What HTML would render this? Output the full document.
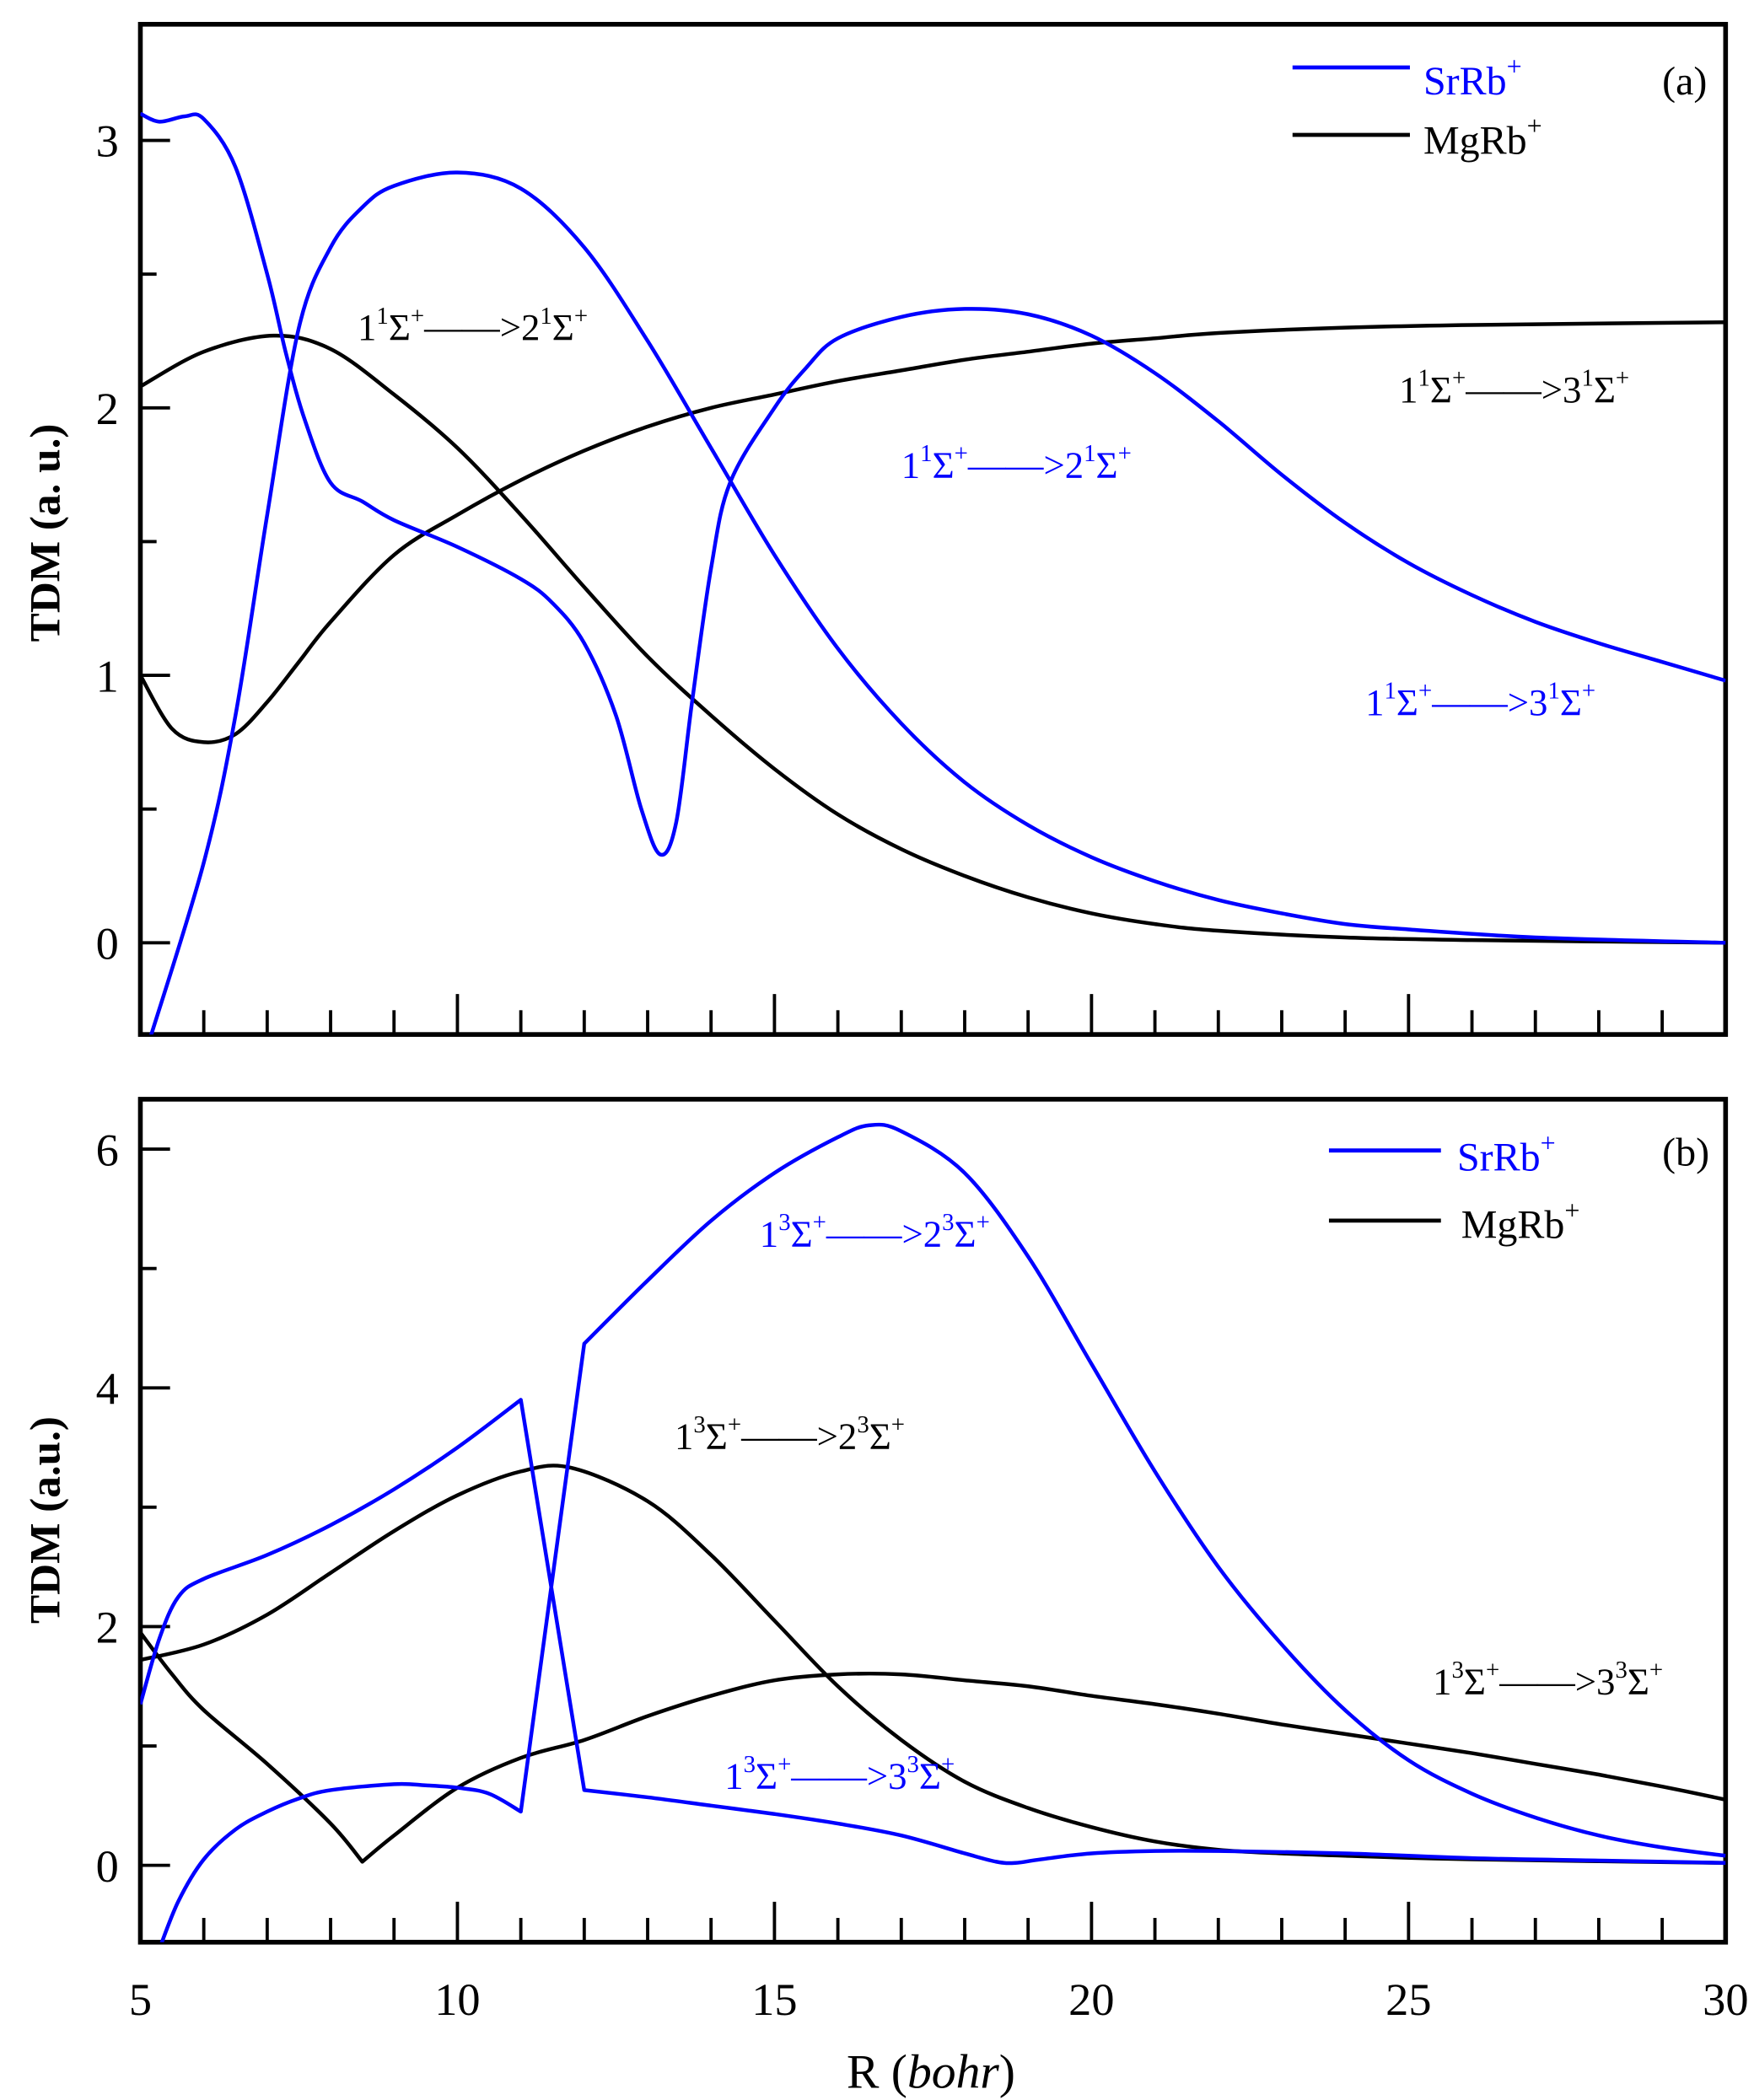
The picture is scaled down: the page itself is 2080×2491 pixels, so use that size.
<!DOCTYPE html>
<html><head><meta charset="utf-8"><style>
html,body{margin:0;padding:0;background:#fff}
svg{display:block}
text{font-family:"Liberation Serif",serif}
</style></head><body>
<svg id="chart" width="2080" height="2491" viewBox="0 0 1300 1557" xmlns="http://www.w3.org/2000/svg">
<defs>
<clipPath id="clipA"><rect x="104" y="18" width="1175" height="749"/></clipPath>
<clipPath id="clipB"><rect x="104" y="815" width="1175" height="625"/></clipPath>
</defs>
<g id="layer"></g>
<g font-size="30">
<line x1="958" y1="50" x2="1045" y2="50" stroke="#0000ff" stroke-width="3"/>
<text x="1055" y="70" fill="#0000ff">SrRb<tspan dy="-14" font-size="20">+</tspan></text>
<line x1="958" y1="100" x2="1045" y2="100" stroke="#000" stroke-width="3"/>
<text x="1055" y="114" fill="#000">MgRb<tspan dy="-14" font-size="20">+</tspan></text>
<text x="1232" y="70">(a)</text>
</g>
<g font-size="28">
<text x="265" y="252">1<tspan dy="-12" font-size="18">1</tspan><tspan dy="12">Σ</tspan><tspan dy="-12" font-size="18">+</tspan><tspan dy="12">——&gt;2</tspan><tspan dy="-12" font-size="18">1</tspan><tspan dy="12">Σ</tspan><tspan dy="-12" font-size="18">+</tspan></text>
<text x="668" y="354" fill="#0000ff">1<tspan dy="-12" font-size="18">1</tspan><tspan dy="12">Σ</tspan><tspan dy="-12" font-size="18">+</tspan><tspan dy="12">——&gt;2</tspan><tspan dy="-12" font-size="18">1</tspan><tspan dy="12">Σ</tspan><tspan dy="-12" font-size="18">+</tspan></text>
<text x="1037" y="298">1<tspan dy="-12" font-size="18">1</tspan><tspan dy="12">Σ</tspan><tspan dy="-12" font-size="18">+</tspan><tspan dy="12">——&gt;3</tspan><tspan dy="-12" font-size="18">1</tspan><tspan dy="12">Σ</tspan><tspan dy="-12" font-size="18">+</tspan></text>
<text x="1012" y="530" fill="#0000ff">1<tspan dy="-12" font-size="18">1</tspan><tspan dy="12">Σ</tspan><tspan dy="-12" font-size="18">+</tspan><tspan dy="12">——&gt;3</tspan><tspan dy="-12" font-size="18">1</tspan><tspan dy="12">Σ</tspan><tspan dy="-12" font-size="18">+</tspan></text>
</g>
<g font-size="30">
<line x1="985" y1="853" x2="1068" y2="853" stroke="#0000ff" stroke-width="3"/>
<text x="1080" y="868" fill="#0000ff">SrRb<tspan dy="-14" font-size="20">+</tspan></text>
<line x1="985" y1="905" x2="1068" y2="905" stroke="#000" stroke-width="3"/>
<text x="1083" y="918" fill="#000">MgRb<tspan dy="-14" font-size="20">+</tspan></text>
<text x="1232" y="864">(b)</text>
</g>
<g font-size="28">
<text x="563" y="924" fill="#0000ff">1<tspan dy="-12" font-size="18">3</tspan><tspan dy="12">Σ</tspan><tspan dy="-12" font-size="18">+</tspan><tspan dy="12">——&gt;2</tspan><tspan dy="-12" font-size="18">3</tspan><tspan dy="12">Σ</tspan><tspan dy="-12" font-size="18">+</tspan></text>
<text x="500" y="1074">1<tspan dy="-12" font-size="18">3</tspan><tspan dy="12">Σ</tspan><tspan dy="-12" font-size="18">+</tspan><tspan dy="12">——&gt;2</tspan><tspan dy="-12" font-size="18">3</tspan><tspan dy="12">Σ</tspan><tspan dy="-12" font-size="18">+</tspan></text>
<text x="1062" y="1256">1<tspan dy="-12" font-size="18">3</tspan><tspan dy="12">Σ</tspan><tspan dy="-12" font-size="18">+</tspan><tspan dy="12">——&gt;3</tspan><tspan dy="-12" font-size="18">3</tspan><tspan dy="12">Σ</tspan><tspan dy="-12" font-size="18">+</tspan></text>
<text x="537" y="1326" fill="#0000ff">1<tspan dy="-12" font-size="18">3</tspan><tspan dy="12">Σ</tspan><tspan dy="-12" font-size="18">+</tspan><tspan dy="12">——&gt;3</tspan><tspan dy="-12" font-size="18">3</tspan><tspan dy="12">Σ</tspan><tspan dy="-12" font-size="18">+</tspan></text>
</g>
<text transform="translate(44,395) rotate(-90)" text-anchor="middle" font-size="32" font-weight="bold">TDM (a. u.)</text>
<text transform="translate(44,1127) rotate(-90)" text-anchor="middle" font-size="32" font-weight="bold">TDM (a.u.)</text>
<text x="690" y="1548" text-anchor="middle" font-size="36">R (<tspan font-style="italic">bohr</tspan>)</text>
</svg>
<script>
// x axis
const xTicks = [5, 10, 15, 20, 25, 30];
// panel (a) data
const aR1 = [5, 5.3, 5.7, 6, 6.5, 7, 7.3, 7.6, 8, 8.5, 9, 10, 11, 11.5, 12, 12.5, 12.9, 13.2, 13.45, 13.7, 14, 14.3, 15, 15.5, 16, 17, 18, 19, 20, 21, 22, 23, 24, 25, 26, 27, 28, 29, 30];
const aSr1 = [3.1, 3.07, 3.09, 3.08, 2.9, 2.5, 2.2, 1.95, 1.72, 1.65, 1.58, 1.48, 1.36, 1.27, 1.12, 0.85, 0.5, 0.33, 0.45, 0.9, 1.4, 1.72, 2.0, 2.15, 2.26, 2.34, 2.37, 2.35, 2.27, 2.13, 1.95, 1.75, 1.57, 1.42, 1.3, 1.2, 1.12, 1.05, 0.98];
const aR2 = [5.15, 6, 6.5, 7, 7.5, 8, 8.5, 9, 10, 11, 12, 13, 14, 15, 16, 17, 18, 19, 20, 21, 22, 23, 24, 25, 27, 30];
const aSr2 = [-0.36, 0.3, 0.85, 1.6, 2.3, 2.6, 2.75, 2.83, 2.88, 2.82, 2.6, 2.25, 1.85, 1.45, 1.1, 0.82, 0.6, 0.44, 0.32, 0.23, 0.16, 0.11, 0.07, 0.05, 0.02, 0.0];
const aR3 = [5, 6, 7.1, 8, 9, 10, 11, 12, 13, 14, 15, 16, 17, 18, 19, 20, 21, 22, 24, 26, 30];
const aMg1 = [2.08, 2.21, 2.27, 2.22, 2.05, 1.85, 1.6, 1.33, 1.07, 0.85, 0.65, 0.48, 0.35, 0.25, 0.17, 0.11, 0.07, 0.045, 0.02, 0.01, 0.0];
const aR4 = [5, 5.5, 6, 6.5, 7, 7.5, 8, 9, 10, 11, 12, 13, 14, 15, 16, 17, 18, 19, 20, 21, 22, 24, 26, 30];
const aMg2 = [1.0, 0.8, 0.75, 0.78, 0.9, 1.05, 1.2, 1.45, 1.6, 1.73, 1.84, 1.93, 2.0, 2.05, 2.1, 2.14, 2.18, 2.21, 2.24, 2.26, 2.28, 2.3, 2.31, 2.32];
const aYTicks = [0, 1, 2, 3];
// panel (b) data
const bR1 = [5, 5.3, 5.6, 6, 7, 8, 9, 10, 11, 12, 13, 14, 15, 16, 17, 18, 18.5, 18.8, 19.2, 20, 21, 22, 24, 26, 28, 30];
const bSr1 = [1.35, 1.9, 2.25, 2.4, 2.6, 2.85, 3.15, 3.5, 3.9, 0.63, 0.57, 0.5, 0.43, 0.35, 0.25, 0.1, 0.03, 0.02, 0.05, 0.1, 0.12, 0.12, 0.1, 0.06, 0.04, 0.02];
const bR2 = [5.3, 5.6, 6, 6.5, 7, 7.5, 8, 9, 9.5, 10, 10.5, 11, 12, 13, 14, 15, 16, 16.5, 17, 18, 19, 20, 21, 22, 23, 24, 25, 26, 27, 28, 29, 30];
const bSr2 = [-0.7, -0.3, 0.05, 0.3, 0.45, 0.56, 0.63, 0.68, 0.67, 0.65, 0.6, 0.45, 4.37, 4.9, 5.4, 5.8, 6.1, 6.2, 6.15, 5.8, 5.1, 4.2, 3.3, 2.5, 1.85, 1.3, 0.88, 0.6, 0.4, 0.25, 0.15, 0.08];
const bR3 = [5, 6, 7, 8, 9, 10, 11, 11.8, 13, 14, 15, 16, 17, 18, 19, 20, 21, 22, 23, 24, 26, 30];
const bMg1 = [1.72, 1.85, 2.1, 2.45, 2.8, 3.1, 3.3, 3.33, 3.05, 2.6, 2.05, 1.5, 1.05, 0.7, 0.48, 0.32, 0.2, 0.13, 0.1, 0.08, 0.05, 0.02];
const bR4 = [5, 5.5, 6, 7, 8, 8.5, 9, 10, 11, 12, 13, 14, 15, 16, 17, 18, 19, 20, 21, 22, 23, 24, 25, 26, 27, 28, 29, 30];
const bMg2 = [1.95, 1.6, 1.3, 0.85, 0.35, 0.03, 0.25, 0.65, 0.9, 1.05, 1.25, 1.42, 1.55, 1.6, 1.6, 1.55, 1.5, 1.42, 1.35, 1.27, 1.18, 1.1, 1.02, 0.94, 0.85, 0.76, 0.66, 0.55];
const bYTicks = [0, 2, 4, 6];

const NS = 'http://www.w3.org/2000/svg';
const layer = document.getElementById('layer');
const X0 = 104, X1 = 1279;
function xs(r){ return X0 + (r - 5) / 25 * (X1 - X0); }
const panels = {
  a: {top: 18, bottom: 767, y0: 699, per: 198.3, clip: 'clipA', minor: 0.5, yticks: aYTicks, ymin: -0.34, ymax: 3.43},
  b: {top: 815, bottom: 1440, y0: 1383, per: 88.5, clip: 'clipB', minor: 1, yticks: bYTicks, ymin: -0.64, ymax: 6.41}
};
function ys(p, v){ return p.y0 - v * p.per; }
function mk(tag, attrs){ const e = document.createElementNS(NS, tag); for (const k in attrs) e.setAttribute(k, attrs[k]); return e; }

function pathFor(p, R, V, sharp){
  const P = R.map((r, i) => [xs(r), ys(p, V[i])]);
  let d = 'M' + P[0][0].toFixed(2) + ',' + P[0][1].toFixed(2);
  for (let i = 0; i < P.length - 1; i++){
    const isSharp = (k) => sharp.indexOf(k) >= 0;
    if (isSharp(i) && isSharp(i + 1)) { d += 'L' + P[i+1][0].toFixed(2) + ',' + P[i+1][1].toFixed(2); continue; }
    const p0 = P[i-1] && !isSharp(i) ? P[i-1] : P[i];
    const p1 = P[i], p2 = P[i+1];
    const p3 = P[i+2] && !isSharp(i+1) ? P[i+2] : P[i+1];
    const c1 = [p1[0] + (p2[0]-p0[0])/6, p1[1] + (p2[1]-p0[1])/6];
    const c2 = [p2[0] - (p3[0]-p1[0])/6, p2[1] - (p3[1]-p1[1])/6];
    d += 'C' + c1.map(v=>v.toFixed(2)).join(',') + ' ' + c2.map(v=>v.toFixed(2)).join(',') + ' ' + p2[0].toFixed(2) + ',' + p2[1].toFixed(2);
  }
  return d;
}

function drawSeries(pk, R, V, color, name, sharp){
  const p = panels[pk];
  const path = mk('path', {d: pathFor(p, R, V, sharp || []), fill: 'none', stroke: color, 'stroke-width': 2.8, 'clip-path': 'url(#' + p.clip + ')', 'stroke-linejoin': 'round'});
  
  
  layer.appendChild(path);
}

function drawAxes(pk){
  const p = panels[pk];
  const g = mk('g', {});
  
  
  layer.appendChild(g);
  for (let r = 5; r <= 30; r++){
    const major = r % 5 === 0;
    const t = mk('line', {x1: xs(r), x2: xs(r), y1: p.bottom, y2: p.bottom - (major ? 30 : 18), stroke: '#000', 'stroke-width': 2.4});
    
    
    g.appendChild(t);
  }
  for (let v = Math.ceil(p.ymin / p.minor) * p.minor; v <= p.ymax; v += p.minor){
    const major = p.yticks.some(t => Math.abs(t - v) < 1e-6);
    const t = mk('line', {x1: X0, x2: X0 + (major ? 22 : 12), y1: ys(p, v), y2: ys(p, v), stroke: '#000', 'stroke-width': 2.4});
    
    
    g.appendChild(t);
  }
  p.yticks.forEach(v => {
    const tx = mk('text', {x: 88, y: ys(p, v) + 12, 'text-anchor': 'end', 'font-size': 34});
    tx.textContent = String(v);
    
    
    g.appendChild(tx);
  });
  const fr = mk('rect', {x: X0, y: p.top, width: X1 - X0, height: p.bottom - p.top, fill: 'none', stroke: '#000', 'stroke-width': 3.5});
  
  
  g.appendChild(fr);
}

drawAxes('a');
drawAxes('b');
xTicks.forEach(r => {
  const tx = mk('text', {x: xs(r), y: 1494, 'text-anchor': 'middle', 'font-size': 34});
  tx.textContent = String(r);
  
  
  layer.appendChild(tx);
});

drawSeries('a', aR3, aMg1, '#000', 'mgrb-singlet-1-2-line');
drawSeries('a', aR4, aMg2, '#000', 'mgrb-singlet-1-3-line');
drawSeries('a', aR1, aSr1, '#0000ff', 'srrb-singlet-1-3-line');
drawSeries('a', aR2, aSr2, '#0000ff', 'srrb-singlet-1-2-line');
drawSeries('b', bR3, bMg1, '#000', 'mgrb-triplet-1-2-line');
drawSeries('b', bR4, bMg2, '#000', 'mgrb-triplet-1-3-line', [5]);
drawSeries('b', bR1, bSr1, '#0000ff', 'srrb-triplet-1-3-line', [8, 9]);
drawSeries('b', bR2, bSr2, '#0000ff', 'srrb-triplet-1-2-line', [11, 12]);
</script>
</body></html>
